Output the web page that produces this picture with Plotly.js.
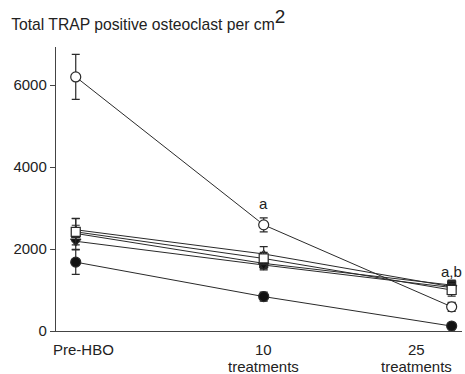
<!DOCTYPE html>
<html>
<head>
<meta charset="utf-8">
<script src="https://cdn.plot.ly/plotly-3.0.1.min.js"></script>
<style>html,body{margin:0;padding:0;background:#fff;}#chart{width:465px;height:374px;}</style>
</head>
<body>
<div id="chart"></div>
<script>
// Time points (categorical positions 0,1,2)
const timepoints = ["Pre-HBO", "10 treatments", "25 treatments"];
const tickLines = [["Pre-HBO"], ["10", "treatments"], ["25", "treatments"]];

// Series values (osteoclasts per cm^2) and SEM
const openCircle = [6200, 2590, 590];
const openCircleErr = [550, 170, 110];
const filledCircle = [1680, 840, 120];
const filledCircleErr = [300, 110, 40];
const openTriangle = [2470, 1880, 1080];
const openTriangleErr = [280, 180, 150];
const openSquare = [2420, 1770, 1000];
const openSquareErr = [320, 150, 150];
const filledSquare = [2380, 1650, 1120];
const filledSquareErr = [200, 130, 120];
const filledTriangle = [2190, 1610, 1060];
const filledTriangleErr = [200, 120, 100];

// Significance labels
const sigLabels = ["", "a", "a,b"];
const sigValues = [null, 2850, 1200];

const xpos = timepoints.map((_, i) => i);
const tickPos = [0.04, 1, 1.815];
const lineCol = "#2a2a2a";
const FONT = "Liberation Sans, Arial, sans-serif";

function series(y, err, symbol, fill, size) {
  return {
    x: xpos, y: y, type: "scatter", mode: "lines+markers",
    line: {color: lineCol, width: 1},
    marker: {symbol: symbol, size: size, color: fill, line: {color: lineCol, width: 1.2}},
    error_y: {type: "data", array: err, visible: true, color: lineCol, thickness: 1.2, width: 4},
    showlegend: false, hoverinfo: "skip"
  };
}

const traces = [
  series(openTriangle, openTriangleErr, "triangle-up", "#ffffff", 7),
  series(filledSquare, filledSquareErr, "square", "#111111", 8),
  series(filledTriangle, filledTriangleErr, "triangle-down", "#111111", 9),
  series(openSquare, openSquareErr, "square", "#ffffff", 9),
  series(filledCircle, filledCircleErr, "circle", "#111111", 10),
  series(openCircle, openCircleErr, "circle", "#ffffff", 10)
];

const annotations = [];
sigLabels.forEach((t, i) => {
  if (t) annotations.push({x: xpos[i], y: sigValues[i], text: t, showarrow: false,
    font: {family: FONT, size: 15, color: "#222"}, xanchor: "center", yanchor: "bottom"});
});
tickLines.forEach((lines, i) => {
  lines.forEach((ln, j) => {
    annotations.push({x: tickPos[i], xref: "x", y: 0, yref: "paper", text: ln, showarrow: false,
      font: {family: FONT, size: 15, color: "#222"}, xanchor: "center", yanchor: "middle",
      yshift: -18 - 17 * j});
  });
});

const layout = {
  width: 465, height: 374,
  margin: {l: 56, r: 3, t: 47, b: 43},
  paper_bgcolor: "#fff", plot_bgcolor: "#fff",
  font: {family: FONT, size: 15, color: "#222"},
  title: {text: "Total TRAP positive osteoclast per cm<sup><span style=\"font-size:19px\">2</span></sup>", x: 0.024, xanchor: "left", y: 0.935, yanchor: "middle",
    font: {size: 15.7, color: "#222"}},
  xaxis: {
    range: [-0.105, 2.055], showgrid: false, zeroline: false,
    showline: true, linecolor: "#444", linewidth: 1.2,
    ticks: "", showticklabels: false, fixedrange: true
  },
  yaxis: {
    range: [0, 6930], showgrid: false, zeroline: false,
    showline: true, linecolor: "#444", linewidth: 1.2,
    ticks: "outside", ticklen: 5, tickcolor: "#444", tickwidth: 1,
    tickvals: [0, 2000, 4000, 6000], tickfont: {size: 15}, fixedrange: true
  },
  annotations: annotations
};

Plotly.newPlot("chart", traces, layout, {staticPlot: true, displayModeBar: false});
</script>
</body>
</html>
